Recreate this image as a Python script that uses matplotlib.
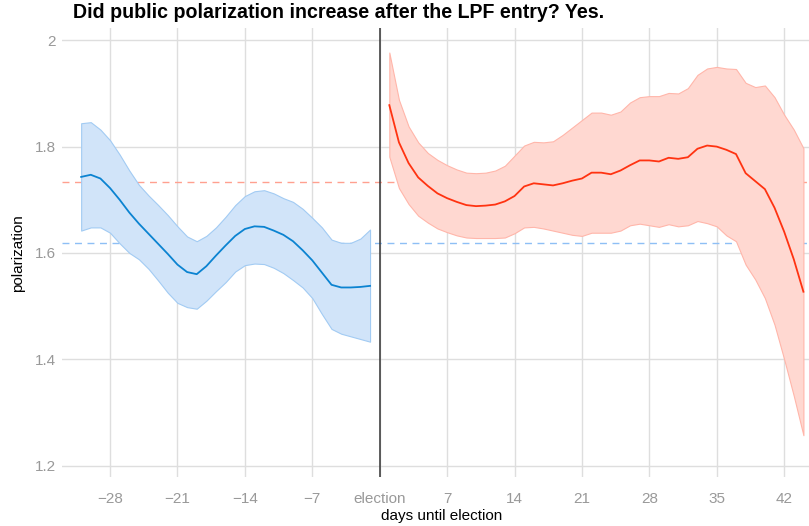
import matplotlib
matplotlib.use("Agg")
import matplotlib.pyplot as plt
import numpy as np

plt.rcParams['font.family'] = ['Liberation Sans', 'DejaVu Sans']

# ---- data ----
before_days = list(range(-31, 0))
before_mean = [1.743, 1.747, 1.740, 1.722, 1.700, 1.676, 1.655, 1.636, 1.617, 1.598,
               1.578, 1.564, 1.560, 1.575, 1.595, 1.614, 1.632, 1.645, 1.650, 1.649,
               1.642, 1.634, 1.622, 1.605, 1.586, 1.563, 1.540, 1.535, 1.535, 1.536, 1.538]
before_upper = [1.844, 1.846, 1.832, 1.812, 1.785, 1.755, 1.728, 1.708, 1.690, 1.671,
                1.650, 1.631, 1.622, 1.632, 1.648, 1.668, 1.690, 1.707, 1.716, 1.718,
                1.712, 1.703, 1.696, 1.683, 1.666, 1.648, 1.625, 1.619, 1.619, 1.627, 1.644]
before_lower = [1.642, 1.648, 1.648, 1.638, 1.618, 1.600, 1.588, 1.570, 1.548, 1.525,
                1.506, 1.498, 1.495, 1.510, 1.528, 1.545, 1.565, 1.577, 1.580, 1.579,
                1.572, 1.562, 1.549, 1.535, 1.515, 1.485, 1.457, 1.448, 1.443, 1.438, 1.433]

after_days = list(range(1, 45))
after_mean = [1.878, 1.808, 1.769, 1.742, 1.726, 1.712, 1.703, 1.696, 1.690, 1.688,
              1.689, 1.691, 1.697, 1.707, 1.725, 1.731, 1.729, 1.727, 1.731, 1.736,
              1.740, 1.751, 1.751, 1.748, 1.755, 1.765, 1.774, 1.774, 1.772, 1.779,
              1.777, 1.780, 1.796, 1.802, 1.800, 1.794, 1.786, 1.750, 1.735, 1.720,
              1.685, 1.640, 1.588, 1.527]
after_upper = [1.977, 1.888, 1.838, 1.808, 1.788, 1.775, 1.765, 1.757, 1.751, 1.750,
               1.751, 1.755, 1.764, 1.783, 1.802, 1.809, 1.808, 1.810, 1.822, 1.836,
               1.850, 1.864, 1.864, 1.860, 1.866, 1.883, 1.893, 1.895, 1.895, 1.901,
               1.900, 1.910, 1.935, 1.947, 1.950, 1.947, 1.946, 1.920, 1.912, 1.915,
               1.893, 1.860, 1.832, 1.797]
after_lower = [1.781, 1.722, 1.692, 1.670, 1.657, 1.646, 1.639, 1.633, 1.629, 1.628,
               1.628, 1.628, 1.629, 1.637, 1.648, 1.649, 1.646, 1.642, 1.638, 1.634,
               1.632, 1.638, 1.638, 1.638, 1.642, 1.652, 1.655, 1.652, 1.649, 1.654,
               1.650, 1.652, 1.660, 1.656, 1.650, 1.633, 1.622, 1.578, 1.550, 1.515,
               1.465, 1.400, 1.331, 1.257]

mean_before_ref = 1.618
mean_after_ref = 1.733

x_ticks = [-28, -21, -14, -7, 0, 7, 14, 21, 28, 35, 42]
x_tick_labels = ['\u221228', '\u221221', '\u221214', '\u22127', 'election', '7', '14', '21', '28', '35', '42']
y_ticks = [1.2, 1.4, 1.6, 1.8, 2.0]
y_tick_labels = ['1.2', '1.4', '1.6', '1.8', '2']

title = "Did public polarization increase after the LPF entry? Yes."

# ---- figure ----
fig = plt.figure(figsize=(8.09, 5.26), dpi=100)
ax = fig.add_axes([61.7 / 809, 49 / 526, 1 - 61.7 / 809, (477 - 28.3) / 526])

ax.set_xlim(-33.02, 44.58)
ax.set_ylim(1.1784, 2.0226)

grid_c = '#dedede'
for t in x_ticks:
    ax.axvline(t, color=grid_c, lw=1.0, zorder=0)
for t in y_ticks:
    ax.axhline(t, color=grid_c, lw=1.0, zorder=0)

ax.axhline(mean_after_ref, color='#ffa08f', lw=1.0, ls=(0, (5, 4)), zorder=1)
ax.axhline(mean_before_ref, color='#8ebff5', lw=1.0, ls=(0, (5, 4)), zorder=1)

ax.fill_between(before_days, before_lower, before_upper, facecolor='#d1e4f9',
                edgecolor='#a2cbf3', lw=0.8, zorder=2)
ax.plot(before_days, before_mean, color='#0b83d1', lw=1.3, zorder=3)

ax.fill_between(after_days, after_lower, after_upper, facecolor='#ffd8d1',
                edgecolor='#ffb6aa', lw=0.8, zorder=2)
ax.plot(after_days, after_mean, color='#ff3311', lw=1.3, zorder=3)

ax.axvline(0, color='#333333', lw=1.1, zorder=4)

for s in ax.spines.values():
    s.set_visible(False)

ax.set_xticks(x_ticks)
ax.set_xticklabels(x_tick_labels)
ax.set_yticks(y_ticks)
ax.set_yticklabels(y_tick_labels)
ax.tick_params(axis='both', length=0, colors='#999999', labelsize=11)
ax.tick_params(axis='x', pad=11)
ax.tick_params(axis='y', pad=4)

ax.set_xlabel('days until election', fontsize=11, color='black')
ax.xaxis.set_label_coords((441.5 - 61.7) / (809 - 61.7), -0.071)
ax.set_ylabel('polarization', fontsize=11, color='black')
ax.yaxis.set_label_coords(-(61.7 - 25) / (809 - 61.7), 0.5)

fig.text(72.7 / 809, 1 - 18.5 / 526, title, fontsize=14.1, fontweight='bold',
         ha='left', va='baseline', color='black')

fig.savefig('out.png', dpi=100)
